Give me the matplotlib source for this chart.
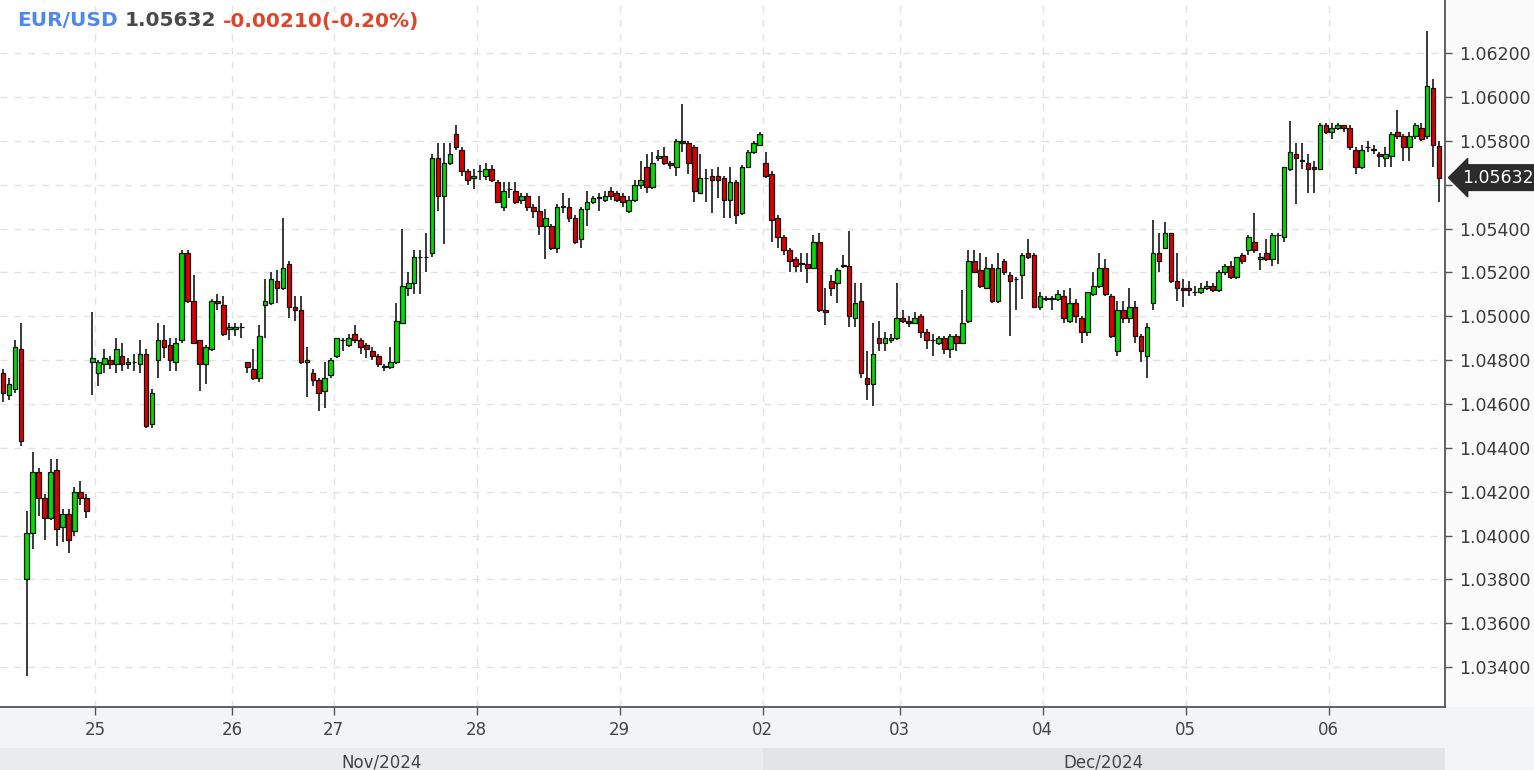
import matplotlib.pyplot as plt
import matplotlib.transforms as mtransforms
from matplotlib.patches import Rectangle
import numpy as np

# hourly EUR/USD candles, 22 Nov - 6 Dec 2024 (weekends collapsed)
opens = [
    1.0474, 1.0464, 1.0467, 1.0485, 1.0380, 1.0401, 1.0429, 1.0417, 1.0408, 1.0430, 1.0404, 1.0410, 1.0402, 1.0420, 1.0417,
    1.0479, 1.0474, 1.0478, 1.0480, 1.0478, 1.0482, 1.0478, 1.0479, 1.0478, 1.0483, 1.0451, 1.0480, 1.0489, 1.0487, 1.0479,
    1.0489, 1.0529, 1.0507, 1.0489, 1.0478, 1.0485, 1.0507, 1.0505,
    1.0494, 1.0494, 1.0495, 1.0479, 1.0476, 1.0472, 1.0505, 1.0506, 1.0516, 1.0513, 1.0524, 1.0504, 1.0503, 1.0479, 1.0474,
    1.0471, 1.0466, 1.0473,
    1.0482, 1.0489, 1.0487, 1.0492, 1.0489, 1.0487, 1.0484, 1.0482, 1.0477, 1.0477, 1.0479, 1.0497, 1.0513, 1.0515, 1.0527,
    1.0527, 1.0529, 1.0572, 1.0555, 1.0570, 1.0583, 1.0576, 1.0566, 1.0563,
    1.0566, 1.0564, 1.0567, 1.0561, 1.0550, 1.0558, 1.0557, 1.0553, 1.0555, 1.0550, 1.0548, 1.0541, 1.0541, 1.0531, 1.0550,
    1.0550, 1.0545, 1.0535, 1.0549, 1.0552, 1.0554, 1.0553, 1.0557, 1.0556,
    1.0555, 1.0548, 1.0553, 1.0560, 1.0568, 1.0559, 1.0572, 1.0573, 1.0570, 1.0568, 1.0580, 1.0579, 1.0577, 1.0556, 1.0563,
    1.0564, 1.0564, 1.0563, 1.0553, 1.0561, 1.0547, 1.0568, 1.0575, 1.0578,
    1.0570, 1.0565, 1.0545, 1.0536, 1.0530, 1.0526, 1.0524, 1.0524, 1.0522, 1.0534, 1.0503, 1.0516, 1.0515, 1.0523, 1.0523,
    1.0499, 1.0507, 1.0472, 1.0469, 1.0490, 1.0488, 1.0489, 1.0490,
    1.0499, 1.0498, 1.0497, 1.0500, 1.0493, 1.0489, 1.0488, 1.0490, 1.0485, 1.0491, 1.0488, 1.0498, 1.0525, 1.0521, 1.0513,
    1.0522, 1.0507, 1.0525, 1.0519, 1.0517, 1.0519, 1.0529, 1.0528, 1.0504,
    1.0508, 1.0508, 1.0508, 1.0509, 1.0498, 1.0506, 1.0499, 1.0493, 1.0510, 1.0514, 1.0522, 1.0509, 1.0484, 1.0503, 1.0499,
    1.0504, 1.0491, 1.0482, 1.0506, 1.0529, 1.0531, 1.0538, 1.0516, 1.0513,
    1.0513, 1.0511, 1.0511, 1.0513, 1.0514, 1.0512, 1.0520, 1.0523, 1.0518, 1.0528, 1.0530, 1.0534, 1.0526, 1.0529, 1.0526,
    1.0537, 1.0536, 1.0567, 1.0574, 1.0571, 1.0570, 1.0568, 1.0567, 1.0587,
    1.0584, 1.0586, 1.0587, 1.0586, 1.0576, 1.0568, 1.0577, 1.0576, 1.0574, 1.0572, 1.0573, 1.0584, 1.0582, 1.0577, 1.0582,
    1.0586, 1.0582, 1.0604, 1.05778,
]
highs = [
    1.0476, 1.0472, 1.0489, 1.0497, 1.0411, 1.0438, 1.0431, 1.0419, 1.0435, 1.0435, 1.0412, 1.0412, 1.0422, 1.0425, 1.0419,
    1.0502, 1.0480, 1.0485, 1.0482, 1.0490, 1.0488, 1.0481, 1.0483, 1.0489, 1.0485, 1.0467, 1.0497, 1.0496, 1.0490, 1.0490,
    1.0530, 1.0530, 1.0519, 1.0489, 1.0487, 1.0508, 1.0510, 1.0509,
    1.0497, 1.0497, 1.0497, 1.0479, 1.0485, 1.0496, 1.0517, 1.0520, 1.0521, 1.0545, 1.0525, 1.0509, 1.0509, 1.0486, 1.0476,
    1.0472, 1.0479, 1.0481,
    1.0490, 1.0490, 1.0492, 1.0496, 1.0490, 1.0488, 1.0486, 1.0483, 1.0478, 1.0486, 1.0506, 1.0540, 1.0520, 1.0530, 1.0530,
    1.0538, 1.0574, 1.0579, 1.0579, 1.0579, 1.0587, 1.0577, 1.0567, 1.0567,
    1.0569, 1.0570, 1.0569, 1.0562, 1.0561, 1.0561, 1.0561, 1.0556, 1.0556, 1.0551, 1.0555, 1.0549, 1.0542, 1.0551, 1.0556,
    1.0554, 1.0546, 1.0550, 1.0557, 1.0555, 1.0556, 1.0557, 1.0559, 1.0557,
    1.0556, 1.0555, 1.0562, 1.0571, 1.0574, 1.0575, 1.0576, 1.0577, 1.0571, 1.0581, 1.0597, 1.0580, 1.0578, 1.0574, 1.0567,
    1.0567, 1.0568, 1.0564, 1.0568, 1.0562, 1.0569, 1.0576, 1.0580, 1.0584,
    1.0575, 1.0566, 1.0546, 1.0537, 1.0531, 1.0527, 1.0529, 1.0529, 1.0537, 1.0538, 1.0513, 1.0519, 1.0522, 1.0528, 1.0539,
    1.0515, 1.0515, 1.0484, 1.0497, 1.0498, 1.0493, 1.0492, 1.0515,
    1.0503, 1.0500, 1.0502, 1.0501, 1.0494, 1.0492, 1.0491, 1.0491, 1.0492, 1.0492, 1.0512, 1.0530, 1.0530, 1.0529, 1.0527,
    1.0524, 1.0529, 1.0526, 1.0520, 1.0518, 1.0529, 1.0535, 1.0529, 1.0511,
    1.0509, 1.0509, 1.0512, 1.0512, 1.0513, 1.0508, 1.0500, 1.0511, 1.0520, 1.0529, 1.0526, 1.0510, 1.0507, 1.0507, 1.0513,
    1.0507, 1.0492, 1.0497, 1.0544, 1.0538, 1.0543, 1.0538, 1.0529, 1.0517,
    1.0516, 1.0514, 1.0515, 1.0516, 1.0515, 1.0521, 1.0524, 1.0525, 1.0527, 1.0529, 1.0537, 1.0547, 1.0529, 1.0535, 1.0538,
    1.0538, 1.0568, 1.0589, 1.0579, 1.0579, 1.0574, 1.0571, 1.0588, 1.0588,
    1.0588, 1.0588, 1.0587, 1.0587, 1.0577, 1.0578, 1.0580, 1.0578, 1.0575, 1.0577, 1.0584, 1.0594, 1.0583, 1.0584, 1.0588,
    1.0588, 1.0630, 1.0608, 1.0580,
]
lows = [
    1.0461, 1.0462, 1.0465, 1.0441, 1.0336, 1.0394, 1.0409, 1.0398, 1.0407, 1.0395, 1.0397, 1.0392, 1.0400, 1.0414, 1.0408,
    1.0464, 1.0468, 1.0474, 1.0476, 1.0474, 1.0475, 1.0476, 1.0475, 1.0474, 1.0449, 1.0449, 1.0472, 1.0481, 1.0475, 1.0475,
    1.0488, 1.0506, 1.0488, 1.0466, 1.0469, 1.0484, 1.0503, 1.0491,
    1.0489, 1.0491, 1.0490, 1.0474, 1.0471, 1.0470, 1.0490, 1.0505, 1.0506, 1.0512, 1.0499, 1.0498, 1.0478, 1.0463, 1.0468,
    1.0457, 1.0458, 1.0472,
    1.0481, 1.0484, 1.0486, 1.0488, 1.0483, 1.0481, 1.0480, 1.0477, 1.0475, 1.0476, 1.0478, 1.0497, 1.0509, 1.0510, 1.0510,
    1.0520, 1.0527, 1.0548, 1.0533, 1.0569, 1.0576, 1.0564, 1.0560, 1.0558,
    1.0562, 1.0562, 1.0561, 1.0552, 1.0548, 1.0554, 1.0551, 1.0551, 1.0548, 1.0545, 1.0537, 1.0526, 1.0530, 1.0529, 1.0547,
    1.0543, 1.0533, 1.0531, 1.0541, 1.0551, 1.0548, 1.0552, 1.0553, 1.0552,
    1.0550, 1.0547, 1.0552, 1.0558, 1.0556, 1.0558, 1.0571, 1.0569, 1.0567, 1.0564, 1.0575, 1.0565, 1.0552, 1.0556, 1.0552,
    1.0547, 1.0554, 1.0545, 1.0545, 1.0542, 1.0546, 1.0568, 1.0574, 1.0578,
    1.0563, 1.0534, 1.0531, 1.0528, 1.0520, 1.0520, 1.0520, 1.0515, 1.0522, 1.0502, 1.0496, 1.0509, 1.0506, 1.0522, 1.0495,
    1.0495, 1.0472, 1.0462, 1.0459, 1.0484, 1.0484, 1.0488, 1.0489,
    1.0497, 1.0495, 1.0497, 1.0490, 1.0485, 1.0482, 1.0487, 1.0483, 1.0481, 1.0484, 1.0488, 1.0497, 1.0520, 1.0513, 1.0513,
    1.0506, 1.0506, 1.0519, 1.0491, 1.0503, 1.0508, 1.0526, 1.0504, 1.0503,
    1.0507, 1.0503, 1.0507, 1.0497, 1.0497, 1.0497, 1.0488, 1.0491, 1.0509, 1.0513, 1.0509, 1.0490, 1.0482, 1.0497, 1.0497,
    1.0488, 1.0479, 1.0472, 1.0503, 1.0520, 1.0531, 1.0515, 1.0507, 1.0504,
    1.0509, 1.0509, 1.0510, 1.0512, 1.0511, 1.0511, 1.0519, 1.0517, 1.0517, 1.0524, 1.0528, 1.0529, 1.0521, 1.0525, 1.0523,
    1.0524, 1.0534, 1.0566, 1.0551, 1.0567, 1.0556, 1.0556, 1.0567, 1.0583,
    1.0581, 1.0585, 1.0584, 1.0576, 1.0565, 1.0567, 1.0575, 1.0574, 1.0568, 1.0568, 1.0568, 1.0581, 1.0571, 1.0571, 1.0581,
    1.0580, 1.0581, 1.0568, 1.0552,
]
closes = [
    1.0465, 1.0469, 1.0486, 1.0443, 1.0401, 1.0429, 1.0417, 1.0408, 1.0429, 1.0403, 1.0410, 1.0398, 1.0420, 1.0417, 1.0411,
    1.0481, 1.0479, 1.0481, 1.0478, 1.0485, 1.0478, 1.0479, 1.0479, 1.0483, 1.0450, 1.0465, 1.0489, 1.0486, 1.0480, 1.0488,
    1.0529, 1.0507, 1.0488, 1.0478, 1.0486, 1.0507, 1.0506, 1.0492,
    1.0495, 1.0495, 1.0495, 1.0477, 1.0472, 1.0491, 1.0507, 1.0517, 1.0513, 1.0522, 1.0504, 1.0503, 1.0479, 1.0480, 1.0471,
    1.0465, 1.0472, 1.0480,
    1.0490, 1.0489, 1.0490, 1.0489, 1.0486, 1.0485, 1.0482, 1.0478, 1.0477, 1.0479, 1.0498, 1.0514, 1.0515, 1.0527, 1.0527,
    1.0527, 1.0572, 1.0555, 1.0570, 1.0574, 1.0577, 1.0566, 1.0562, 1.0564,
    1.0566, 1.0567, 1.0562, 1.0552, 1.0557, 1.0558, 1.0552, 1.0555, 1.0550, 1.0548, 1.0541, 1.0545, 1.0531, 1.0550, 1.0550,
    1.0545, 1.0534, 1.0549, 1.0552, 1.0554, 1.0554, 1.0555, 1.0555, 1.0553,
    1.0552, 1.0553, 1.0560, 1.0562, 1.0559, 1.0570, 1.0573, 1.0570, 1.0569, 1.0580, 1.0579, 1.0570, 1.0557, 1.0563, 1.0563,
    1.0562, 1.0562, 1.0553, 1.0561, 1.0546, 1.0568, 1.0575, 1.0579, 1.0583,
    1.0564, 1.0544, 1.0536, 1.0530, 1.0525, 1.0523, 1.0524, 1.0522, 1.0534, 1.0503, 1.0502, 1.0513, 1.0521, 1.0523, 1.0500,
    1.0506, 1.0474, 1.0469, 1.0483, 1.0488, 1.0490, 1.0490, 1.0499,
    1.0498, 1.0497, 1.0499, 1.0493, 1.0489, 1.0489, 1.0490, 1.0485, 1.0491, 1.0488, 1.0497, 1.0525, 1.0520, 1.0514, 1.0522,
    1.0507, 1.0522, 1.0520, 1.0516, 1.0517, 1.0528, 1.0527, 1.0504, 1.0509,
    1.0508, 1.0508, 1.0510, 1.0499, 1.0506, 1.0500, 1.0493, 1.0511, 1.0514, 1.0522, 1.0510, 1.0491, 1.0503, 1.0499, 1.0504,
    1.0491, 1.0484, 1.0495, 1.0529, 1.0525, 1.0538, 1.0516, 1.0513, 1.0512,
    1.0512, 1.0511, 1.0513, 1.0514, 1.0512, 1.0520, 1.0523, 1.0518, 1.0527, 1.0525, 1.0536, 1.0530, 1.0527, 1.0526, 1.0537,
    1.0537, 1.0568, 1.0575, 1.0572, 1.0571, 1.0567, 1.0567, 1.0587, 1.0584,
    1.0586, 1.0587, 1.0586, 1.0577, 1.0568, 1.0576, 1.0577, 1.0576, 1.0573, 1.0574, 1.0583, 1.0582, 1.0577, 1.0582, 1.0587,
    1.0581, 1.0605, 1.0578, 1.05632,
]

day_labels = ['25', '26', '27', '28', '29', '02', '03', '04', '05', '06']
day_start = [16, 39, 56, 80, 104, 128, 151, 175, 199, 223]   # candle index where each day tick sits
month_labels = ['Nov/2024', 'Dec/2024']
month_start = [0, 128]
price_ticks = [1.034, 1.036, 1.038, 1.040, 1.042, 1.044, 1.046, 1.048,
               1.050, 1.052, 1.054, 1.056, 1.058, 1.060, 1.062]
symbol = 'EUR/USD'
last_price = 1.05632
change = -0.00210
change_pct = -0.20

fig = plt.figure(figsize=(15.34, 7.70), dpi=100, facecolor='#f3f4f6')
ax = fig.add_axes([0, 0.0818, 0.942, 0.9182])
ax.set_facecolor('white')
# light area behind the price scale
fig.patches.append(Rectangle((0.942, 0.0818), 0.058, 0.9182, transform=fig.transFigure,
                             facecolor='#fafafa', edgecolor='none', zorder=-1))

o = np.array(opens)
h = np.array(highs)
l = np.array(lows)
c = np.array(closes)
x = np.arange(len(c))
up = c > o
body_col = np.where(up, '#00dd00', '#dd0000')
body_col[c == o] = '#222222'

ax.vlines(x, l, h, color='#2a2a2a', linewidth=1.3, zorder=2)
body = np.maximum(np.abs(c - o), 0.00002)
ax.bar(x, body, bottom=np.minimum(o, c), width=0.78, color=body_col,
       edgecolor='#111111', linewidth=0.9, zorder=3)

ax.set_xlim(-0.5, 242.0)
ax.set_ylim(1.03218, 1.06442)

# price scale on the right (the level under the last-price marker is hidden by it)
ax.yaxis.tick_right()
ax.set_yticks(price_ticks)
ax.set_yticklabels(['' if abs(p - last_price) < 0.0006 else '%.5f' % p for p in price_ticks])
ax.tick_params(axis='y', direction='out', length=5, width=1, color='#555555',
               labelsize=12.5, labelcolor='#3a3a3a', pad=5)

tick_pos = [d - 0.5 for d in day_start]
ax.set_xticks(tick_pos)
ax.set_xticklabels(day_labels)
ax.tick_params(axis='x', direction='out', length=6, width=1, color='#555555',
               labelsize=12, labelcolor='#444444', pad=4)

ax.grid(True, linestyle=(0, (5, 5)), color='#e2e2e2', linewidth=1)
ax.set_axisbelow(True)
for s in ['left', 'top']:
    ax.spines[s].set_visible(False)
for s in ['right', 'bottom']:
    ax.spines[s].set_color('#555555')
    ax.spines[s].set_linewidth(1.3)

# month band under the day labels
trans = mtransforms.blended_transform_factory(ax.transData, ax.transAxes)
bounds = [ax.get_xlim()[0] if m == 0 else m - 0.5 for m in month_start] + [ax.get_xlim()[1]]
band_cols = ['#ebecee', '#e3e4e6']
for i, name in enumerate(month_labels):
    ax.add_patch(Rectangle((bounds[i], -0.12), bounds[i + 1] - bounds[i], 0.062,
                           transform=trans, facecolor=band_cols[i], edgecolor='none',
                           clip_on=False))
    ax.text((bounds[i] + bounds[i + 1]) / 2, -0.066, name, transform=trans,
            ha='center', va='top', fontsize=12, color='#444444', clip_on=False)

# last price marker
ytrans = mtransforms.blended_transform_factory(ax.transAxes, ax.transData)
ax.text(1.012, last_price, '%.5f' % last_price, transform=ytrans, color='white',
        fontsize=12.5, va='center', ha='left', clip_on=False,
        bbox=dict(boxstyle='larrow,pad=0.22', facecolor='#2b2b2b', edgecolor='#2b2b2b'))

# header
t1 = fig.text(17 / 1534, 1 - 21 / 770, symbol, color='#4d88ee', fontsize=14.5,
              weight='bold', va='center', ha='left')
t2 = ax.annotate('%.5f' % last_price, xy=(1, 0), xycoords=t1, xytext=(7, 0),
                 textcoords='offset pixels', va='bottom', ha='left', color='#4a4a4a',
                 fontsize=14.5, weight='bold', annotation_clip=False)
ax.annotate('%.5f(%.2f%%)' % (change, change_pct), xy=(1, 0), xycoords=t2, xytext=(7, 0),
            textcoords='offset pixels', va='bottom', ha='left', color='#e0452a',
            fontsize=14.5, weight='bold', annotation_clip=False)

fig.savefig('out.png', dpi=100, facecolor=fig.get_facecolor())
